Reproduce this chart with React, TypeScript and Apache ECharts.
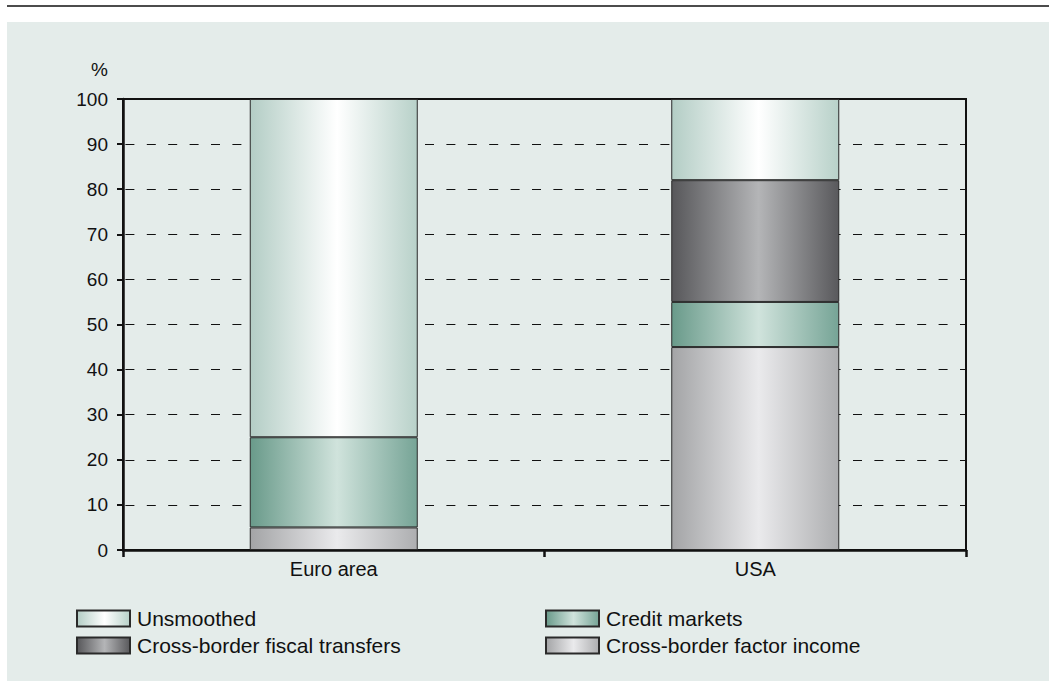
import React, { useEffect, useRef } from "react";
import * as echarts from "echarts";

const categories = ["Euro area", "USA"];
const unsmoothed = [75, 18];
const creditMarkets = [20, 10];
const fiscalTransfers = [0, 27];
const factorIncome = [5, 45];
const yTicks = { min: 0, max: 100, interval: 10 };

const FONT = "'Liberation Sans', Arial, sans-serif";
const BG = "#e4ecea";

function grad(edgeL: string, center: string, edgeR: string, pos = 0.52) {
  return new echarts.graphic.LinearGradient(0, 0, 1, 0, [
    { offset: 0, color: edgeL },
    { offset: pos, color: center },
    { offset: 1, color: edgeR },
  ]);
}

export default function App() {
  const ref = useRef<HTMLDivElement>(null);
  useEffect(() => {
    if (!ref.current) return;
    const chart = echarts.init(ref.current, undefined, { renderer: "svg" });
    const border = { borderColor: "#2a2a2a", borderWidth: 1 };
    const mk = (name: string, data: number[], color: any) => ({
      name,
      type: "bar",
      stack: "total",
      data: data.map((v) => (v === 0 ? "-" : v)),
      barWidth: 168,
      itemStyle: { color, ...border },
      emphasis: { disabled: true },
    });
    const legendBase = {
      itemWidth: 53,
      itemHeight: 16,
      icon: "rect",
      textStyle: { fontFamily: FONT, fontSize: 21, color: "#111", padding: [0, 0, 0, 2] },
    };
    chart.setOption({
      animation: false,
      backgroundColor: BG,
      textStyle: { fontFamily: FONT },
      graphic: [
        { type: "rect", shape: { x: 0, y: 0, width: 1049, height: 22 }, style: { fill: "#ffffff" }, silent: true },
        { type: "rect", shape: { x: 0, y: 0, width: 7, height: 681 }, style: { fill: "#ffffff" }, silent: true },
        { type: "line", shape: { x1: 7, y1: 6, x2: 1049, y2: 6 }, style: { stroke: "#111", lineWidth: 1.5 }, silent: true },
        {
          type: "text",
          x: 108,
          y: 69,
          style: { text: "%", font: `19px ${FONT}`, fill: "#111", align: "right", verticalAlign: "middle" },
        },
      ],
      grid: {
        left: 123,
        right: 83,
        top: 99,
        bottom: 131,
        show: true,
        borderColor: "#111",
        borderWidth: 2,
        backgroundColor: "transparent",
      },
      legend: [
        { ...legendBase, data: ["Unsmoothed"], left: 71, top: 603 },
        { ...legendBase, data: ["Cross-border fiscal transfers"], left: 71, top: 630 },
        { ...legendBase, data: ["Credit markets"], left: 540, top: 603 },
        { ...legendBase, data: ["Cross-border factor income"], left: 540, top: 630 },
      ],
      xAxis: {
        type: "category",
        data: categories,
        axisLine: { lineStyle: { color: "#111", width: 2.5 } },
        axisTick: { show: true, length: 7, lineStyle: { color: "#111", width: 2.5 } },
        axisLabel: { fontFamily: FONT, fontSize: 20, color: "#111", margin: 9 },
        splitLine: { show: false },
      },
      yAxis: {
        type: "value",
        min: yTicks.min,
        max: yTicks.max,
        interval: yTicks.interval,
        axisLine: { show: true, lineStyle: { color: "#111", width: 2.5 } },
        axisTick: { show: true, length: 6, lineStyle: { color: "#111", width: 2 } },
        axisLabel: { fontFamily: FONT, fontSize: 19, color: "#111", margin: 15 },
        splitLine: {
          show: true,
          lineStyle: { color: "#111", width: 1, type: [9, 12.4], dashOffset: 19 },
        },
      },
      series: [
        mk("Cross-border factor income", factorIncome, grad("#a3a4a6", "#eaeaec", "#adaeb0")),
        mk("Credit markets", creditMarkets, grad("#699a8a", "#d0e3dc", "#76a496")),
        mk("Cross-border fiscal transfers", fiscalTransfers, grad("#57575a", "#b4b5b7", "#59595c")),
        mk("Unsmoothed", unsmoothed, grad("#b3cdc5", "#ffffff", "#b8d1c9")),
      ],
    });
    return () => chart.dispose();
  }, []);
  return (
    <div
      ref={ref}
      style={{ position: "fixed", left: 0, top: 0, width: 1049, height: 681 }}
    />
  );
}
